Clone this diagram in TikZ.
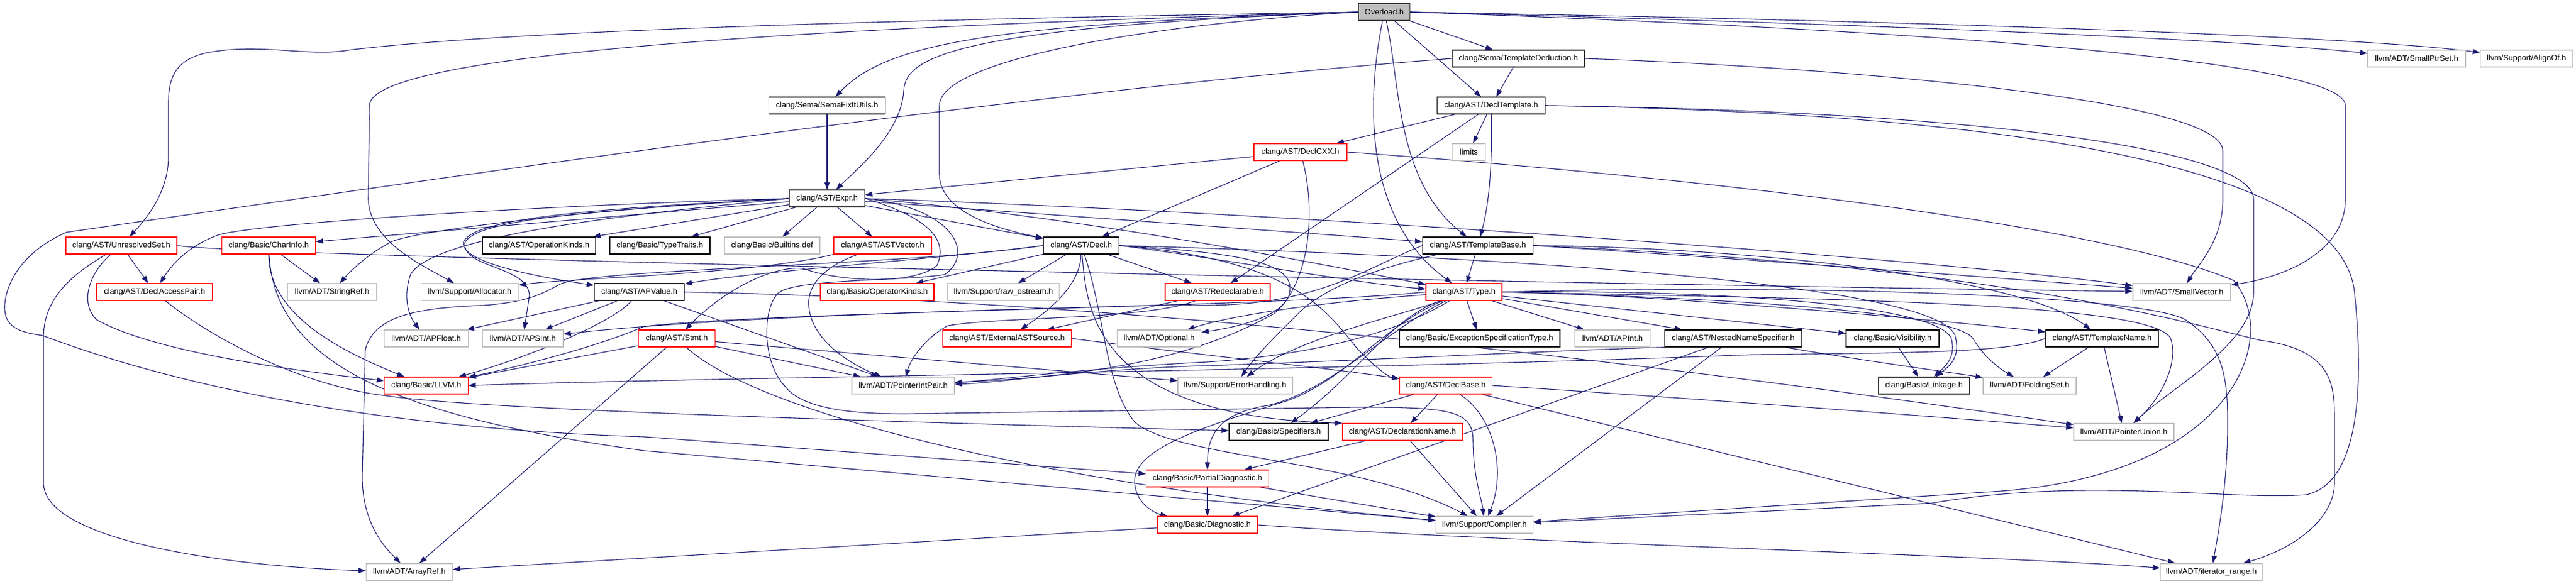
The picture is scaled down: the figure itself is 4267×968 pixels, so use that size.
\documentclass[tikz,border=0pt]{standalone}
\usepackage{fontspec}
\setmainfont{Liberation Sans}
\usetikzlibrary{arrows.meta}
\definecolor{edgeblue}{HTML}{191970}
\definecolor{lgray}{HTML}{BFBFBF}
\definecolor{dgray}{HTML}{404040}
\pgfdeclarelayer{back}
\pgfdeclarelayer{edgelayer}
\pgfsetlayers{back,edgelayer,main}
\begin{document}
\begin{tikzpicture}[x=1pt,y=-1pt,
  nd/.style={rectangle, minimum height=28, inner sep=0pt, line width=1.3pt, fill=white, font=\fontsize{13.2}{15}\selectfont},
  bk/.style={nd, draw=black},
  rd/.style={nd, draw=red},
  gy/.style={nd, draw=lgray},
  rt/.style={nd, draw=dgray, fill=lgray},
  e/.style={draw=edgeblue, line width=1.1pt, -{Triangle[length=12pt,width=8.5pt]}},
]
\useasboundingbox (0,0) rectangle (4267,968);
\begin{pgfonlayer}{back}\fill[white] (0,0) rectangle (4267,968);\end{pgfonlayer}
% row 20
\node[rt, minimum width=85] (ov) at (2293,20) {Overload.h};
% row 97
\node[bk, minimum width=219] (td) at (2515,97) {clang/Sema/TemplateDeduction.h};
\node[gy, minimum width=162] (sps) at (4003,97) {llvm/ADT/SmallPtrSet.h};
\node[gy, minimum width=153] (aln) at (4185,97) {llvm/Support/AlignOf.h};
% row 175
\node[bk, minimum width=193] (sfu) at (1370,175) {clang/Sema/SemaFixItUtils.h};
\node[bk, minimum width=179] (dtp) at (2470,175) {clang/AST/DeclTemplate.h};
% row 252
\node[rd, minimum width=154] (dcx) at (2154,252) {clang/AST/DeclCXX.h};
\node[gy, minimum width=55] (lim) at (2433,252) {limits};
% row 329
\node[bk, minimum width=125] (exr) at (1370,329) {clang/AST/Expr.h};
% row 407
\node[rd, minimum width=184] (uns) at (201,407) {clang/AST/UnresolvedSet.h};
\node[rd, minimum width=155] (chi) at (445,407) {clang/Basic/CharInfo.h};
\node[bk, minimum width=187] (opk) at (893,407) {clang/AST/OperationKinds.h};
\node[bk, minimum width=166] (ttr) at (1093,407) {clang/Basic/TypeTraits.h};
\node[gy, minimum width=158] (bdf) at (1279,407) {clang/Basic/Builtins.def};
\node[rd, minimum width=162] (asv) at (1462,407) {clang/AST/ASTVector.h};
\node[bk, minimum width=125] (dcl) at (1791,407) {clang/AST/Decl.h};
\node[bk, minimum width=183] (tbs) at (2448,407) {clang/AST/TemplateBase.h};
% row 484
\node[rd, minimum width=192] (dap) at (256,484) {clang/AST/DeclAccessPair.h};
\node[gy, minimum width=147] (srf) at (550,484) {llvm/ADT/StringRef.h};
\node[gy, minimum width=161] (alc) at (778,484) {llvm/Support/Allocator.h};
\node[bk, minimum width=149] (apv) at (1059,484) {clang/AST/APValue.h};
\node[rd, minimum width=188] (opr) at (1453,484) {clang/Basic/OperatorKinds.h};
\node[gy, minimum width=185] (ros) at (1662,484) {llvm/Support/raw\_ostream.h};
\node[rd, minimum width=174] (rdc) at (2017,484) {clang/AST/Redeclarable.h};
\node[rd, minimum width=126] (typ) at (2425,484) {clang/AST/Type.h};
\node[gy, minimum width=162] (svc) at (3614,484) {llvm/ADT/SmallVector.h};
% row 561
\node[gy, minimum width=139] (apf) at (706,561) {llvm/ADT/APFloat.h};
\node[gy, minimum width=134] (aps) at (866,561) {llvm/ADT/APSInt.h};
\node[rd, minimum width=127] (stm) at (1121,561) {clang/AST/Stmt.h};
\node[rd, minimum width=213] (eas) at (1668,561) {clang/AST/ExternalASTSource.h};
\node[gy, minimum width=139] (opt) at (1920,561) {llvm/ADT/Optional.h};
\node[bk, minimum width=266] (est) at (2451,561) {clang/Basic/ExceptionSpecificationType.h};
\node[gy, minimum width=125] (api) at (2671,561) {llvm/ADT/APInt.h};
\node[bk, minimum width=227] (nns) at (2871,561) {clang/AST/NestedNameSpecifier.h};
\node[bk, minimum width=154] (vis) at (3135,561) {clang/Basic/Visibility.h};
\node[bk, minimum width=187] (tnm) at (3482,561) {clang/AST/TemplateName.h};
% row 639
\node[rd, minimum width=139] (llv) at (706,639) {clang/Basic/LLVM.h};
\node[gy, minimum width=170] (pip) at (1496,639) {llvm/ADT/PointerIntPair.h};
\node[gy, minimum width=190] (erh) at (2046,639) {llvm/Support/ErrorHandling.h};
\node[rd, minimum width=153] (dbs) at (2395,639) {clang/AST/DeclBase.h};
\node[bk, minimum width=151] (lnk) at (3187,639) {clang/Basic/Linkage.h};
\node[gy, minimum width=154] (fst) at (3362,639) {llvm/ADT/FoldingSet.h};
% row 716
\node[bk, minimum width=164] (spc) at (2118,716) {clang/Basic/Specifiers.h};
\node[rd, minimum width=198] (dnm) at (2323,716) {clang/AST/DeclarationName.h};
\node[gy, minimum width=166] (pun) at (3518,716) {llvm/ADT/PointerUnion.h};
% row 793
\node[rd, minimum width=203] (pdg) at (2000,793) {clang/Basic/PartialDiagnostic.h};
% row 870
\node[rd, minimum width=166] (dgn) at (2000,870) {clang/Basic/Diagnostic.h};
\node[gy, minimum width=161] (cmp) at (2459,870) {llvm/Support/Compiler.h};
% row 948
\node[gy, minimum width=143] (arf) at (678,948) {llvm/ADT/ArrayRef.h};
\node[gy, minimum width=169] (itr) at (3663,948) {llvm/ADT/iterator\_range.h};

\begin{pgfonlayer}{edgelayer}
% Overload.h
\draw[e] (ov.west) .. controls (1500,32) and (850,50) .. (578,83) .. controls (510,95) and (430,70) .. (340,88) .. controls (290,100) and (279,130) .. (279,170) -- (279,260) .. controls (279,320) and (240,365) .. (uns);
\draw[e] (ov.west) .. controls (1500,40) and (612,80) .. (612,175) -- (610,330) .. controls (612,400) and (700,440) .. (alc);
\draw[e] (ov.west) .. controls (1650,40) and (1470,70) .. (sfu);
\draw[e] (ov.west) .. controls (1580,45) and (1500,95) .. (1497,150) .. controls (1493,220) and (1420,280) .. (exr);
\draw[e] (ov.west) .. controls (1900,40) and (1556,100) .. (1556,175) -- (1556,290) .. controls (1558,360) and (1680,385) .. (dcl);
\draw[e] (ov) -- (dtp);
\draw[e] (ov) -- (td);
\draw[e] (ov) .. controls (2320,140) and (2312,300) .. (tbs);
\draw[e] (ov) .. controls (2265,160) and (2255,360) .. (typ);
\draw[e] (ov.east) .. controls (3200,35) and (3900,60) .. (aln);
\draw[e] (ov.east) .. controls (3100,40) and (3700,65) .. (sps);
\draw[e] (ov.east) .. controls (3200,50) and (3885,100) .. (3885,175) -- (3885,330) .. controls (3885,420) and (3780,460) .. (svc);
% TemplateDeduction.h
\draw[e] (td) -- (dtp);
\draw[e] (td.west) .. controls (1700,150) and (700,300) .. (110,385) .. controls (30,420) and (5,480) .. (8,515) .. controls (10,545) and (40,552) .. (70,556) .. controls (400,680) and (800,716) .. (1067,724) -- (pdg);
\draw[e] (td.east) .. controls (3000,110) and (3682,160) .. (3682,250) -- (3682,330) .. controls (3682,400) and (3640,440) .. (svc);
% SemaFixItUtils.h
\draw[e] (sfu) -- (exr);
% DeclTemplate.h
\draw[e] (dtp) -- (dcx);
\draw[e] (dtp) -- (rdc);
\draw[e] (dtp) -- (lim);
\draw[e] (dtp) .. controls (2472,280) and (2466,340) .. (tbs);
\draw[e] (dtp.east) .. controls (3300,185) and (3733,250) .. (3733,330) -- (3733,484) .. controls (3733,570) and (3600,640) .. (pun);
\draw[e] (dtp.east) .. controls (3450,190) and (3880,300) .. (3900,484) .. controls (3914,620) and (3914,800) .. (3820,820) .. controls (3700,830) and (3450,790) .. (3200,834) -- (cmp);
% DeclCXX.h
\draw[e] (dcx) -- (exr);
\draw[e] (dcx) -- (dcl);
\draw[e] (dcx) .. controls (2180,350) and (2170,470) .. (2110,520) .. controls (1950,610) and (1750,625) .. (pip);
\draw[e] (dcx.east) .. controls (2900,300) and (3500,380) .. (3700,465) .. controls (3780,560) and (3700,790) .. (3300,815) -- (cmp);
% Expr.h
\draw[e] (exr.west) .. controls (1000,345) and (790,360) .. (768,400) .. controls (760,425) and (830,450) .. (apv);
\draw[e] (exr) -- (asv);
\draw[e] (exr) -- (dcl);
\draw[e] (exr.west) .. controls (900,340) and (420,370) .. (360,390) .. controls (320,405) and (290,430) .. (dap);
\draw[e] (exr) -- (opk);
\draw[e] (exr.east) .. controls (1520,355) and (1575,390) .. (1552,440) .. controls (1520,470) and (1400,470) .. (1330,445) .. controls (1280,440) and (1200,480) .. (stm);
\draw[e] (exr) -- (tbs);
\draw[e] (exr.east) .. controls (1800,360) and (2200,440) .. (typ);
\draw[e] (exr) -- (chi);
\draw[e] (exr) -- (ttr);
\draw[e] (exr.west) .. controls (1100,350) and (720,385) .. (680,455) .. controls (668,490) and (675,520) .. (apf);
\draw[e] (exr.west) .. controls (1000,348) and (790,362) .. (770,402) .. controls (765,445) and (875,440) .. (877,490) -- (aps);
\draw[e] (exr.east) .. controls (2200,355) and (3200,430) .. (svc);
\draw[e] (exr.west) .. controls (1000,345) and (700,380) .. (650,400) .. controls (610,420) and (580,450) .. (srf);
\draw[e] (exr) -- (bdf);
\draw[e] (exr.east) .. controls (1580,345) and (1615,420) .. (1565,455) .. controls (1500,466) and (1320,462) .. (1290,485) .. controls (1262,510) and (1262,600) .. (1300,640) .. controls (1330,680) and (1420,686) .. (1500,686) -- (2250,675) .. controls (2400,675) and (2440,680) .. (2440,730) .. controls (2440,790) and (2455,830) .. (cmp);
% Decl.h
\draw[e] (dcl.west) .. controls (1550,430) and (1250,450) .. (apv);
\draw[e] (dcl.east) .. controls (2150,430) and (2200,520) .. (2250,580) .. controls (2280,610) and (2300,625) .. (dbs);
\draw[e] (dcl) .. controls (1800,500) and (1800,690) .. (dnm.north west);
\draw[e] (dcl) .. controls (1790,460) and (1760,500) .. (eas);
\draw[e] (dcl) -- (rdc);
\draw[e] (dcl.east) .. controls (2000,425) and (2250,470) .. (typ);
\draw[e] (dcl.east) .. controls (2500,425) and (3200,470) .. (3238,555) .. controls (3248,590) and (3232,605) .. (lnk);
\draw[e] (dcl) -- (opr);
\draw[e] (dcl.west) .. controls (1500,440) and (1000,445) .. (930,470) .. controls (900,485) and (880,500) .. (803,506) .. controls (700,510) and (620,520) .. (605,580) -- (600,790) .. controls (600,870) and (640,910) .. (arf);
\draw[e] (dcl.east) .. controls (2080,420) and (2150,440) .. (2135,490) .. controls (2120,530) and (2030,545) .. (opt);
\draw[e] (dcl) .. controls (1830,520) and (1830,640) .. (1880,700) .. controls (1950,760) and (2250,760) .. (cmp);
\draw[e] (dcl) -- (ros);
% APValue.h
\draw[e] (apv) .. controls (1010,540) and (850,600) .. (llv);
\draw[e] (apv) -- (apf);
\draw[e] (apv) -- (aps);
\draw[e] (apv) -- (pip);
\draw[e] (apv.east) .. controls (2000,500) and (3000,640) .. (pun);
% ASTVector.h
\draw[e] (asv.south west) .. controls (1250,455) and (950,460) .. (alc);
\draw[e] (asv) .. controls (1370,440) and (1335,470) .. (1340,510) .. controls (1345,560) and (1400,600) .. (pip);
% Stmt.h
\draw[e] (stm) -- (llv);
\draw[e] (stm) -- (arf);
\draw[e] (stm) -- (pip);
\draw[e] (stm) -- (erh);
\draw[e] (stm) .. controls (1250,680) and (1700,800) .. (cmp);
% CharInfo.h
\draw[e] (chi) -- (srf);
\draw[e] (chi) .. controls (445,520) and (560,580) .. (llv);
\draw[e] (chi) .. controls (455,600) and (650,690) .. (1067,747) -- (cmp);
% UnresolvedSet.h
\draw[e] (uns) -- (dap);
\draw[e] (uns) .. controls (150,450) and (130,500) .. (160,530) .. controls (250,580) and (450,610) .. (llv);
\draw[e] (uns) .. controls (110,460) and (72,500) .. (72,560) -- (72,800) .. controls (72,900) and (400,940) .. (arf);
\draw[e] (uns.east) .. controls (400,425) and (2500,470) .. (svc);
% DeclAccessPair.h
\draw[e] (dap) .. controls (350,560) and (500,640) .. (640,656) .. controls (800,680) and (1500,700) .. (spc);
% TemplateBase.h
\draw[e] (tbs.east) .. controls (2900,410) and (3350,460) .. (tnm);
\draw[e] (tbs) -- (typ);
\draw[e] (tbs.west) .. controls (2250,450) and (2170,515) .. (1950,505) .. controls (1600,515) and (1200,525) .. (aps);
\draw[e] (tbs.east) .. controls (2900,430) and (3300,460) .. (svc);
\draw[e] (tbs) .. controls (2300,440) and (2200,470) .. (2150,520) .. controls (2110,560) and (2080,590) .. (erh);
\draw[e] (tbs.east) .. controls (3300,440) and (3600,530) .. (3744,564) .. controls (3867,580) and (3867,640) .. (3867,700) -- (3867,800) .. controls (3867,860) and (3800,910) .. (itr);
% Type.h
\draw[e] (typ) -- (nns);
\draw[e] (typ.east) .. controls (2800,490) and (3300,540) .. (tnm);
\draw[e] (typ) .. controls (2290,540) and (2230,630) .. (2130,665) .. controls (2000,705) and (1890,740) .. (1880,790) .. controls (1875,830) and (1910,850) .. (dgn);
\draw[e] (typ) -- (est);
\draw[e] (typ.east) .. controls (2800,480) and (3200,500) .. (3232,560) .. controls (3240,590) and (3225,605) .. (lnk);
\draw[e] (typ) .. controls (2300,545) and (2200,650) .. (2100,672) .. controls (2020,685) and (2000,720) .. (pdg);
\draw[e] (typ) .. controls (2300,530) and (2250,620) .. (spc);
\draw[e] (typ) -- (vis);
\draw[e] (typ) -- (api);
\draw[e] (typ.east) .. controls (2900,495) and (3240,520) .. (3268,561) .. controls (3285,590) and (3310,610) .. (fst);
\draw[e] (typ) .. controls (2200,500) and (2050,520) .. (opt);
\draw[e] (typ) .. controls (2300,560) and (2150,590) .. (2000,600) .. controls (1800,610) and (1650,630) .. (pip);
\draw[e] (typ.east) .. controls (3000,495) and (3560,500) .. (3595,560) .. controls (3610,600) and (3580,660) .. (pun);
\draw[e] (typ.east) .. controls (3000,470) and (3550,490) .. (3620,530) .. controls (3680,570) and (3690,620) .. (3690,700) .. controls (3690,800) and (3675,880) .. (itr);
\draw[e] (typ) .. controls (2330,520) and (2150,560) .. (erh);
\draw[e] (typ.west) .. controls (2100,510) and (1300,515) .. (1067,541) .. controls (990,575) and (850,610) .. (llv);
% NestedNameSpecifier.h
\draw[e] (nns) -- (dgn);
\draw[e] (nns) .. controls (3100,600) and (3250,620) .. (fst);
\draw[e] (nns.south west) .. controls (2600,580) and (2200,600) .. (2000,606) .. controls (1800,612) and (1650,635) .. (pip);
\draw[e] (nns) -- (cmp);
% TemplateName.h
\draw[e] (tnm.west) .. controls (3330,585) and (3150,585) .. (2900,588) .. controls (2200,615) and (1200,625) .. (llv.east);
\draw[e] (tnm) -- (fst);
\draw[e] (tnm) -- (pun);
% Visibility.h
\draw[e] (vis) -- (lnk);
% DeclBase.h
\draw[e] (dbs) -- (dnm);
\draw[e] (dbs) -- (spc);
\draw[e] (dbs) .. controls (2475,690) and (2495,780) .. (cmp);
\draw[e] (dbs.east) .. controls (2800,660) and (3200,690) .. (pun);
\draw[e] (dbs) -- (itr);
% DeclarationName.h
\draw[e] (dnm) -- (pdg);
\draw[e] (dnm) -- (cmp);
% PartialDiagnostic.h
\draw[e] (pdg) -- (dgn);
\draw[e] (pdg) -- (cmp);
% Diagnostic.h
\draw[e] (dgn) -- (arf);
\draw[e] (dgn.east) .. controls (2500,900) and (3300,920) .. (itr);
% Redeclarable.h
\draw[e] (rdc) -- (eas);
\draw[e] (rdc) .. controls (1900,530) and (1650,525) .. (1570,540) .. controls (1540,555) and (1510,590) .. (pip);
% ExternalASTSource.h
\draw[e] (eas.east) .. controls (2000,590) and (2200,610) .. (dbs);
\end{pgfonlayer}
\end{tikzpicture}
\end{document}
